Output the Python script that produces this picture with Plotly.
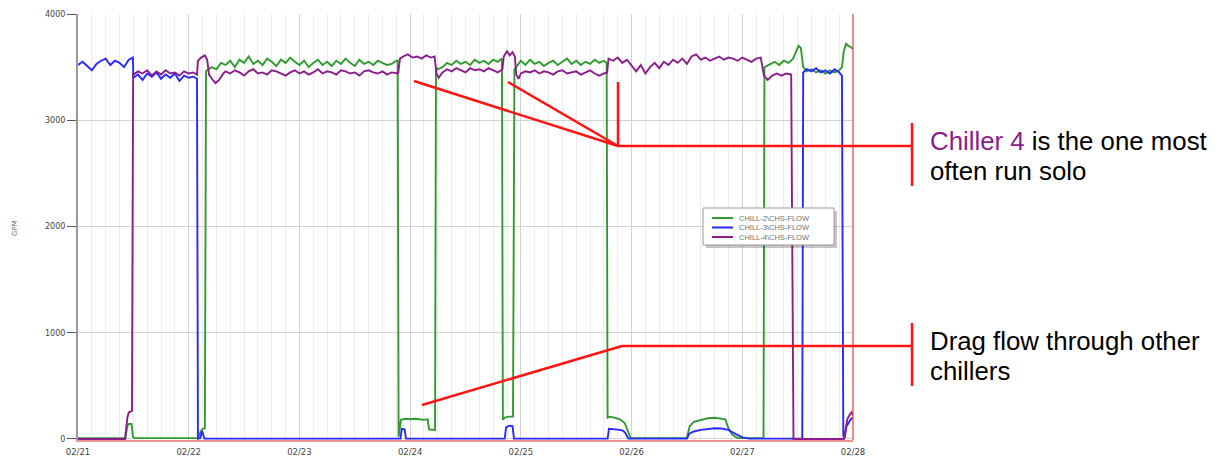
import pandas as pd
import plotly.graph_objects as go

# ---------------- data (hours after 02/21 00:00, GPM) ----------------
green_hours = [0, 10.3, 10.6, 10.9, 11.6, 11.9, 12.3, 26.0, 26.6, 27.0, 27.5, 27.75,
               28, 29, 30, 31, 32, 33, 34, 35, 36, 37, 38, 39, 40, 41, 42, 43, 44, 45, 46, 47,
               48, 49, 50, 51, 52, 53, 54, 55, 56, 57, 58, 59, 60, 61, 62, 63, 64, 65, 66, 67, 68, 69,
               69.3, 69.5, 70.0, 71, 72, 73, 74, 75, 75.8, 76.1, 77.4, 77.6,
               78, 79, 80, 81, 82, 83, 84, 85, 86, 87, 88, 89, 90, 91, 91.9,
               92.1, 92.5, 93.5, 94.3, 94.6,
               95, 96, 97, 98, 99, 100, 101, 102, 103, 104, 105, 106, 107, 108, 109, 110, 111,
               112, 113, 114, 114.6,
               114.8, 115.5, 116.5, 117.5, 118.5, 119.3, 119.8,
               132, 132.6, 133.5, 135, 136.5, 138, 139.5, 140.3, 141, 141.8, 143,
               148.6, 148.8, 150, 151, 152, 153, 154, 155, 155.6, 156.2, 156.7, 157.2, 158, 159,
               160, 161, 162, 163, 164, 165, 165.6, 166.0, 166.5, 167, 167.5, 168]
green_gpm = [8, 8, 100, 140, 140, 20, 8, 8, 70, 95, 100, 3460,
             3470, 3500, 3480, 3540, 3520, 3560, 3500, 3570, 3540, 3600, 3530, 3560, 3520, 3580,
             3550, 3510, 3570, 3540, 3590, 3550, 3520, 3560, 3500, 3540, 3570, 3520, 3550, 3510,
             3560, 3530, 3580, 3540, 3510, 3570, 3530, 3550, 3520, 3560, 3540, 3520, 3530, 3560,
             3560, 20, 180, 190, 185, 190, 185, 180, 185, 90, 85, 3500,
             3480, 3500, 3540, 3520, 3560, 3530, 3550, 3520, 3570, 3540, 3560, 3530, 3570, 3550, 3580,
             180, 200, 210, 210, 3480,
             3500, 3560, 3520, 3570, 3530, 3550, 3510, 3540, 3560, 3520, 3550, 3580, 3530, 3560,
             3520, 3550, 3530, 3570, 3540, 3560, 3540,
             200, 210, 195, 185, 150, 60, 8,
             8, 120, 160, 180, 195, 200, 190, 185, 100, 40, 8,
             8, 3500, 3530, 3550, 3520, 3560, 3540, 3580, 3640, 3700, 3680, 3500, 3460, 3480,
             3450, 3470, 3440, 3470, 3450, 3470, 3500, 3650, 3720, 3700, 3690, 3670]

blue_hours = [0, 1, 2, 3, 4, 5, 6, 7, 8, 9, 10, 11, 11.9,
              12, 13, 14, 15, 16, 17, 18, 19, 20, 21, 22, 23, 24, 25, 25.8,
              26.0, 26.5, 26.9, 27.4,
              69.9, 70.2, 70.8, 71.1,
              92.5, 92.8, 93.5, 94.2, 94.5,
              114.8, 115.1, 116, 117, 118, 118.6, 119.3,
              132, 132.5, 133.5, 135, 136.5, 138, 139.5, 141, 142, 143, 144, 145.5,
              157.0, 157.2, 158, 159, 160, 161, 162, 163, 164, 165, 165.6, 165.9, 166.2,
              166.6, 167.2, 167.6, 168]
blue_gpm = [3520, 3550, 3510, 3470, 3530, 3560, 3580, 3520, 3560, 3540, 3500, 3570, 3590,
            3400, 3430, 3380, 3440, 3410, 3450, 3390, 3430, 3400, 3440, 3370, 3420, 3400, 3410, 3390,
            3, 10, 75, 3,
            3, 95, 90, 3,
            3, 110, 125, 120, 3,
            3, 95, 95, 88, 80, 60, 3,
            3, 50, 70, 85, 95, 100, 98, 85, 60, 35, 15, 3,
            3, 3450, 3480, 3460, 3490, 3450, 3470, 3440, 3480, 3450, 3420, 30, 10,
            120, 170, 190, 200]

purple_hours = [0, 10.2, 10.7, 11.0, 11.7, 11.95,
                12, 13, 14, 15, 16, 17, 18, 19, 20, 21, 22, 23, 24, 25, 25.8,
                26.0, 26.7, 27.5, 28.0,
                28.4, 29, 29.8, 30.6, 31.5,
                32, 33, 34, 35, 36, 37, 38, 39, 40, 41, 42, 43, 44, 45, 46, 47, 48, 49, 50,
                51, 52, 53, 54, 55, 56, 57, 58, 59, 60, 61, 62, 63, 64, 65, 66, 67, 68, 69,
                69.4, 69.8, 70.5, 71.5, 72.5, 73.5, 74.5, 75.5, 76.5, 77.3,
                77.7, 78.2, 79, 80, 81, 82, 83, 84, 85, 86, 87, 88, 89, 90, 91, 92,
                92.3, 93, 93.6, 94.2, 94.7,
                95.0, 95.5, 96, 97, 98, 99, 100, 101, 102, 103, 104, 105, 106, 107, 108, 109,
                110, 111, 112, 113, 114, 114.7,
                115, 116, 117, 118, 119, 120, 121, 122, 123, 124, 125, 126, 127, 128, 129, 130,
                131, 132, 133, 134, 135, 136, 137, 138, 139, 140, 141, 142, 143, 144, 145, 146,
                147, 148,
                148.7, 149.5, 150.5, 151.5, 152.5, 153.5, 154.6,
                155.1, 166.0, 166.3, 166.8, 167.3, 167.7, 168]
purple_gpm = [0, 0, 200, 250, 265, 3440,
              3430, 3460, 3440, 3470, 3420, 3460, 3430, 3470, 3440, 3450, 3420, 3460, 3440, 3450, 3430,
              3560, 3590, 3610, 3570,
              3430, 3390, 3350, 3380, 3440,
              3460, 3440, 3470, 3450, 3420, 3460, 3480, 3440, 3450, 3430,
              3470, 3460, 3440, 3420, 3450, 3470, 3440, 3460, 3430, 3450,
              3480, 3440, 3460, 3450, 3430, 3470, 3460, 3440, 3450, 3420,
              3460, 3470, 3450, 3440, 3460, 3430, 3450, 3440,
              3440, 3580, 3600, 3620, 3590, 3600, 3580, 3610, 3590, 3600,
              3440, 3400, 3450, 3480, 3460, 3490, 3470, 3450, 3490, 3470, 3480, 3460, 3490, 3470,
              3450, 3480,
              3600, 3650, 3610, 3640, 3600,
              3430, 3390, 3440, 3460, 3450, 3470, 3440, 3460, 3450, 3430, 3460, 3470, 3440, 3450,
              3460, 3430, 3450, 3470, 3440, 3420, 3440, 3450,
              3580, 3560, 3590, 3540, 3570, 3510, 3460, 3520, 3440, 3500,
              3540, 3490, 3550, 3520, 3570, 3540, 3580, 3530, 3600, 3620,
              3570, 3590, 3560, 3580, 3600, 3570, 3590, 3580, 3560, 3590,
              3570, 3550, 3580, 3590,
              3420, 3380, 3420, 3440, 3420, 3440, 3430,
              0, 0, 80, 190, 230, 250, 220]

series_names = ["CHILL-2\\CHS-FLOW", "CHILL-3\\CHS-FLOW", "CHILL-4\\CHS-FLOW"]
series_colors = ["#2f9a2f", "#2828ff", "#8c1c8c"]
y_ticks = [0, 1000, 2000, 3000, 4000]
start_day = "2011-02-21"
end_day = "2011-02-28"

assert len(green_hours) == len(green_gpm)
assert len(blue_hours) == len(blue_gpm)
assert len(purple_hours) == len(purple_gpm)

base = pd.Timestamp(start_day)


def to_time(hours):
    return [base + pd.Timedelta(hours=h) for h in hours]


# ---------------- layout geometry helpers (pixels -> paper) ----------------
L, R, T, B = 78, 853, 14, 440


def px(x):
    return (x - L) / (R - L)


def py(y):
    return (B - y) / (B - T)


fig = go.Figure()
for hrs, vals, name, col in [(green_hours, green_gpm, series_names[0], series_colors[0]),
                             (blue_hours, blue_gpm, series_names[1], series_colors[1]),
                             (purple_hours, purple_gpm, series_names[2], series_colors[2])]:
    fig.add_trace(go.Scatter(x=to_time(hrs), y=vals, mode="lines", name=name,
                             line=dict(color=col, width=1.9), showlegend=False))

shapes = []
red = "#ff1414"


def seg(x0, y0, x1, y1, color=red, width=2.5):
    shapes.append(dict(type="line", xref="paper", yref="paper", x0=px(x0), y0=py(y0),
                       x1=px(x1), y1=py(y1), line=dict(color=color, width=width), layer="above"))


# right red border
shapes.append(dict(type="line", xref="paper", yref="paper", x0=1, x1=1, y0=0, y1=1,
                   line=dict(color="rgba(235,70,70,0.85)", width=1.5), layer="above"))

# upper callout
seg(414, 81, 618, 146)
seg(508, 82, 618, 146)
seg(618, 82, 618, 146)
seg(618, 146, 912, 146)
seg(912, 123, 912, 186)
# lower callout
seg(422, 405, 622, 346)
seg(622, 346, 912, 346)
seg(912, 323, 912, 386)

# custom legend box
shapes.append(dict(type="rect", xref="paper", yref="paper", x0=px(706), x1=px(837), y0=py(211), y1=py(248),
                   fillcolor="rgba(0,0,0,0.22)", line=dict(width=0), layer="above"))
shapes.append(dict(type="rect", xref="paper", yref="paper", x0=px(703), x1=px(834), y0=py(208), y1=py(245),
                   fillcolor="white", line=dict(color="#9a9a9a", width=1), layer="above"))
legend_y = [218, 227.5, 237]
for yy, col in zip(legend_y, series_colors):
    seg(712, yy, 733, yy, color=col, width=2)

annotations = []
for yy, name in zip(legend_y, series_names):
    annotations.append(dict(xref="paper", yref="paper", x=px(737), y=py(yy), text=name,
                            showarrow=False, xanchor="left", yanchor="middle",
                            font=dict(family="Liberation Sans", size=7.5, color="#707070")))

txt_font = dict(family="Liberation Sans", size=25.8, color="black")
for yy, t in [(141, "<span style='color:#8c1c8c'>Chiller 4</span> is the one most"),
              (171, "often run solo"),
              (341, "Drag flow through other"),
              (371, "chillers")]:
    annotations.append(dict(xref="paper", yref="paper", x=px(928), y=py(yy), text=t,
                            showarrow=False, xanchor="left", yanchor="middle", font=txt_font))

annotations.append(dict(xref="paper", yref="paper", x=px(15), y=py(228), text="GPM", textangle=-90,
                        showarrow=False, xanchor="center", yanchor="middle",
                        font=dict(family="DejaVu Sans", size=7, color="#666666")))

fig.update_layout(
    width=1222, height=460,
    margin=dict(l=L, r=1222 - R, t=T, b=460 - B),
    plot_bgcolor="white", paper_bgcolor="white",
    shapes=shapes, annotations=annotations,
    showlegend=False,
    xaxis=dict(type="date", range=[start_day, end_day], dtick=86400000, tickformat="%m/%d",
               automargin=False,
               showgrid=True, gridcolor="#d2d2d2", gridwidth=1,
               minor=dict(dtick=10800000, showgrid=True, gridcolor="#ececec", gridwidth=1),
               ticks="outside", ticklen=3, tickcolor="rgba(0,0,0,0)",
               tickfont=dict(family="DejaVu Sans", size=8.5, color="#444444"),
               showline=True, linecolor="rgba(230,120,120,0.8)", linewidth=1.5, zeroline=False),
    yaxis=dict(range=[-10, 4000], tickvals=y_ticks, ticktext=[str(v) for v in y_ticks],
               automargin=False,
               showgrid=True, gridcolor="#d2d2d2", gridwidth=1,
               ticks="outside", ticklen=9, tickcolor="#555555", tickwidth=1,
               tickfont=dict(family="DejaVu Sans", size=8, color="#444444"),
               showline=True, linecolor="#9a9a9a", linewidth=2, zeroline=False),
)

fig.write_html("out.html", config={"displayModeBar": False},
               post_script="document.body.style.margin='0';document.body.style.overflow='hidden';")
